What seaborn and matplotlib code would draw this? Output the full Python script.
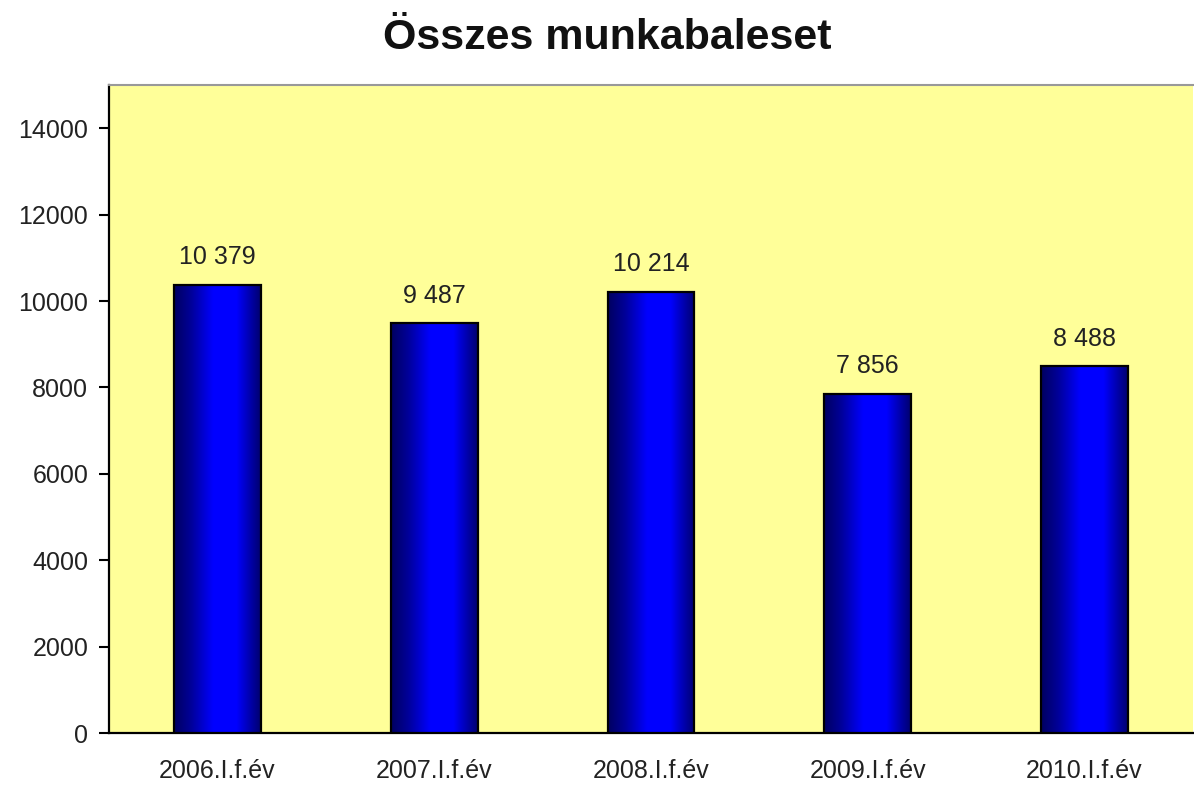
import numpy as np
import pandas as pd
import matplotlib
matplotlib.use("Agg")
import matplotlib.pyplot as plt
from matplotlib.colors import LinearSegmentedColormap
import seaborn as sns

categories = ["2006.I.f.év", "2007.I.f.év", "2008.I.f.év", "2009.I.f.év", "2010.I.f.év"]
values = [10379, 9487, 10214, 7856, 8488]
yticks = [0, 2000, 4000, 6000, 8000, 10000, 12000, 14000]

sns.set_theme(style="white")
plt.rcParams['font.family'] = ['Liberation Sans', 'DejaVu Sans']

df = pd.DataFrame({"cat": categories, "val": values})

fig = plt.figure(figsize=(11.94, 7.85), dpi=100)
ax = fig.add_axes([0.0913, 0.0662, 0.9077, 0.8255])
ax.set_facecolor("#ffff99")

sns.barplot(data=df, x="cat", y="val", color="#0000ff", width=0.4,
            edgecolor="black", linewidth=1.6, ax=ax, saturation=1, zorder=3)

cmap = LinearSegmentedColormap.from_list(
    "bar", [(0.0, "#000060"), (0.2, "#00009a"), (0.45, "#0000ff"),
            (0.72, "#0000ff"), (0.9, "#0000a0"), (1.0, "#000070")])
grad = np.linspace(0, 1, 256).reshape(1, -1)
for p in ax.patches:
    x0, y0 = p.get_x(), p.get_y()
    w, h = p.get_width(), p.get_height()
    im = ax.imshow(grad, extent=[x0, x0 + w, y0, y0 + h], aspect="auto",
                   cmap=cmap, zorder=3.5, interpolation="bilinear")
    im.set_clip_path(p)
    p.set_facecolor("none")
    p.set_zorder(4)

labels = [f"{v:,}".replace(",", " ") for v in values]
ax.bar_label(ax.containers[0], labels=labels, padding=11, fontsize=18, color="#222222")

ax.set_xlim(-0.5, 4.5)
ax.set_ylim(0, 15000)
ax.set_yticks(yticks)
ax.set_yticklabels([str(t) for t in yticks])
ax.set_xlabel("")
ax.set_ylabel("")

ax.set_xticks(range(len(categories)))
ax.set_xticklabels(categories)
ax.set_xticks(np.arange(-0.5, 5.0, 1.0), minor=True)
ax.tick_params(axis="x", which="major", length=0, pad=19, labelsize=18, labelcolor="#222222")
ax.tick_params(axis="x", which="minor", length=7, width=1.5, color="black", direction="out")
ax.tick_params(axis="y", which="major", length=7, width=1.5, color="black", direction="out",
               pad=8, labelsize=18, labelcolor="#222222", left=True)

for s in ["left", "bottom"]:
    ax.spines[s].set_color("black")
    ax.spines[s].set_linewidth(1.6)
ax.spines["top"].set_color("#999999")
ax.spines["top"].set_linewidth(1.5)
ax.spines["right"].set_visible(False)

fig.text(0.509, 0.951, "Összes munkabaleset", ha="center", va="center",
         fontsize=31, fontweight="bold", color="#111111")

fig.savefig("out.png", dpi=100, facecolor="white")
